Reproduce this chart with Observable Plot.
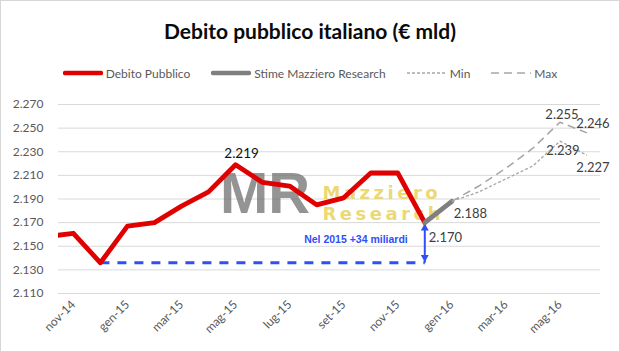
<!DOCTYPE html>
<html><head><meta charset="utf-8">
<script src="https://cdn.jsdelivr.net/npm/d3@7"></script>
<script src="https://cdn.jsdelivr.net/npm/@observablehq/plot@0.6"></script>
<style>
html,body{margin:0;padding:0;background:#fff;}
#chart{width:620px;height:352px;box-sizing:border-box;border:1px solid #d6d6d6;position:relative;overflow:hidden;font-family:Lato,sans-serif;}
#title{height:50px;line-height:60px;text-align:center;font-weight:bold;font-size:21px;color:#0a0a0a;white-space:nowrap;}
#legend{height:44px;display:flex;align-items:center;justify-content:center;gap:21px;font-size:12px;color:#595959;white-space:nowrap;}
.item{display:flex;align-items:center;}
.item svg{margin-right:3px;display:block;}
</style></head>
<body>
<div id="chart">
  <div id="title">Debito pubblico italiano (€ mld)</div>
  <div id="legend"></div>
  <div id="plot"></div>
</div>
<script>
// ---- data ----
const months = ["ott-14","nov-14","dic-14","gen-15","feb-15","mar-15","apr-15","mag-15","giu-15","lug-15","ago-15","set-15","ott-15","nov-15","dic-15","gen-16","feb-16","mar-16","apr-16","mag-16","giu-16"];
const debitoMonths = months.slice(0, 15); // ott-14 .. dic-15
const debitoValues = [2158, 2161, 2136, 2167, 2170, 2184, 2196, 2219, 2204, 2201, 2185, 2191, 2212, 2212, 2170];
const stimeMonths = ["dic-15","gen-16"];
const stimeValues = [2170, 2188];
const forecastMonths = ["gen-16","feb-16","mar-16","apr-16","mag-16","giu-16"];
const minValues = [2188, 2196, 2207, 2218, 2239, 2227];
const maxValues = [2188, 2201, 2216, 2233, 2255, 2246];
const yTicks = [2110, 2130, 2150, 2170, 2190, 2210, 2230, 2250, 2270];
const xTickLabels = ["nov-14","gen-15","mar-15","mag-15","lug-15","set-15","nov-15","gen-16","mar-16","mag-16"];
const seriesNames = ["Debito Pubblico","Stime Mazziero Research","Min","Max"];

// ---- styles ----
const RED = "#e00000", GRAY = "#7f7f7f", LIGHT = "#a6a6a6", BLUE = "#2f4ff7", LABEL = "#404040";
const legendStyles = [
  {stroke: RED, width: 4.5, dash: null, cap: "round"},
  {stroke: GRAY, width: 4.5, dash: null, cap: "round"},
  {stroke: LIGHT, width: 1.3, dash: "3,2", cap: "butt"},
  {stroke: LIGHT, width: 1.5, dash: "8,5", cap: "butt"}
];

const it = d3.formatLocale({decimal: ",", thousands: ".", grouping: [3], currency: ["€", ""]});
const fmt = it.format(",d");

const toRows = (ms, vs) => ms.map((m, k) => ({i: months.indexOf(m), v: vs[k], m}));
const debito = toRows(debitoMonths, debitoValues);
const stime = toRows(stimeMonths, stimeValues);
const minS = toRows(forecastMonths, minValues);
const maxS = toRows(forecastMonths, maxValues);
const xTicks = xTickLabels.map(l => months.indexOf(l));

const peak = debito.reduce((a, b) => (b.v > a.v ? b : a));
const dec14 = debito.find(d => d.m === "dic-14");
const dec15 = debito.find(d => d.m === "dic-15");
const baseLine = [{i: dec14.i, v: dec14.v}, {i: dec15.i, v: dec14.v}];
const arrowRow = [{i: dec15.i, v1: dec14.v, v2: dec15.v}];
const delta = Math.round(dec15.v - dec14.v);
const note = [{i: dec15.i, v: (dec14.v + dec15.v) / 2, t: `Nel 2015 +${delta} miliardi`}];
const mayIdx = forecastMonths.indexOf("mag-16");
const lastIdx = forecastMonths.length - 1;

// ---- legend ----
const legend = d3.select("#legend");
seriesNames.forEach((name, k) => {
  const s = legendStyles[k];
  const item = legend.append("div").attr("class", "item");
  const sv = item.append("svg").attr("width", 40).attr("height", 8);
  sv.append("line").attr("x1", s.cap === "round" ? 2 : 0).attr("x2", s.cap === "round" ? 38 : 40)
    .attr("y1", 4).attr("y2", 4).attr("stroke", s.stroke).attr("stroke-width", s.width)
    .attr("stroke-linecap", s.cap).attr("stroke-dasharray", s.dash);
  item.append("span").text(name);
});

// ---- plot ----
const txt = {x: "i", y: "v", text: d => fmt(d.v), fill: LABEL, fontSize: 13, fontFamily: "Lato"};
const wm = {fontFamily: "DejaVu Sans", fontWeight: "bold", fontSize: 18, fill: "#e8d25a", fillOpacity: 0.85, textAnchor: "start"};
const chart = Plot.plot({
  width: 618, height: 256,
  marginTop: 9, marginBottom: 58, marginLeft: 57, marginRight: 19,
  x: {domain: [0.45, 20.5]},
  y: {domain: [2110, 2270]},
  style: {fontFamily: "Lato, sans-serif", fontSize: "12px", color: "#595959", background: "white", overflow: "visible"},
  marks: [
    Plot.gridY(yTicks, {stroke: "#d9d9d9", strokeOpacity: 1, strokeWidth: 1}),
    Plot.axisY(yTicks, {tickFormat: fmt, tickSize: 0, tickPadding: 15, label: null}),
    Plot.axisX(xTicks, {tickFormat: i => months[i], tickRotate: -45, tickSize: 0, tickPadding: 9, label: null}),
    // watermark
    Plot.text(["MR"], {text: d => d, frameAnchor: "middle", dx: -64.5, dy: -4.5, fontSize: 58, fontWeight: "bold", fontFamily: "Liberation Sans", fill: "#707070", fillOpacity: 0.75}),
    Plot.text(["Mazziero"], {...wm, text: d => d, frameAnchor: "middle", dx: -7, dy: -6}),
    Plot.text(["Research"], {...wm, text: d => d, frameAnchor: "middle", dx: -7, dy: 15}),
    // 2015 increase annotation
    Plot.line(baseLine, {x: "i", y: "v", stroke: BLUE, strokeWidth: 3, strokeDasharray: "9,8", strokeLinecap: "butt"}),
    Plot.link(arrowRow, {x1: "i", x2: "i", y1: "v1", y2: "v2", stroke: BLUE, strokeWidth: 2}),
    Plot.dot(arrowRow, {x: "i", y: "v2", symbol: "triangle2", r: 3.8, fill: BLUE, stroke: null, dy: 5.5}),
    Plot.dot(arrowRow, {x: "i", y: "v1", symbol: "triangle2", r: 3.8, fill: BLUE, stroke: null, rotate: 180, dy: -5.5}),
    Plot.text(note, {x: "i", y: "v", text: "t", textAnchor: "end", dx: -17, dy: -3, fill: BLUE, fontSize: 10.5, fontWeight: "bold", fontFamily: "Liberation Sans"}),
    // series
    Plot.line(debito, {x: "i", y: "v", stroke: RED, strokeWidth: 4.8, clip: true}),
    Plot.line(stime, {x: "i", y: "v", stroke: GRAY, strokeWidth: 4.8}),
    Plot.line(minS, {x: "i", y: "v", stroke: LIGHT, strokeWidth: 1.3, strokeDasharray: "3,2", strokeLinecap: "butt"}),
    Plot.line(maxS, {x: "i", y: "v", stroke: LIGHT, strokeWidth: 1.5, strokeDasharray: "8,5", strokeLinecap: "butt"}),
    // data labels
    Plot.text([peak], {...txt, fill: "#111", fontSize: 13.5, dx: 6, dy: -11}),
    Plot.text([dec15], {...txt, textAnchor: "start", dx: 4, dy: 15}),
    Plot.text([stime[stime.length - 1]], {...txt, textAnchor: "start", dx: 2, dy: 12}),
    Plot.text([maxS[mayIdx]], {...txt, dx: 2, dy: -7}),
    Plot.text([maxS[lastIdx]], {...txt, dx: 6, dy: -9}),
    Plot.text([minS[mayIdx]], {...txt, dx: 3, dy: 10}),
    Plot.text([minS[lastIdx]], {...txt, dx: 6, dy: 13})
  ]
});
d3.select(chart).selectAll("text").filter(function() {
  return this.textContent === "Mazziero" || this.textContent === "Research";
}).attr("letter-spacing", 3.5);
document.getElementById("plot").appendChild(chart);
</script>
</body></html>
